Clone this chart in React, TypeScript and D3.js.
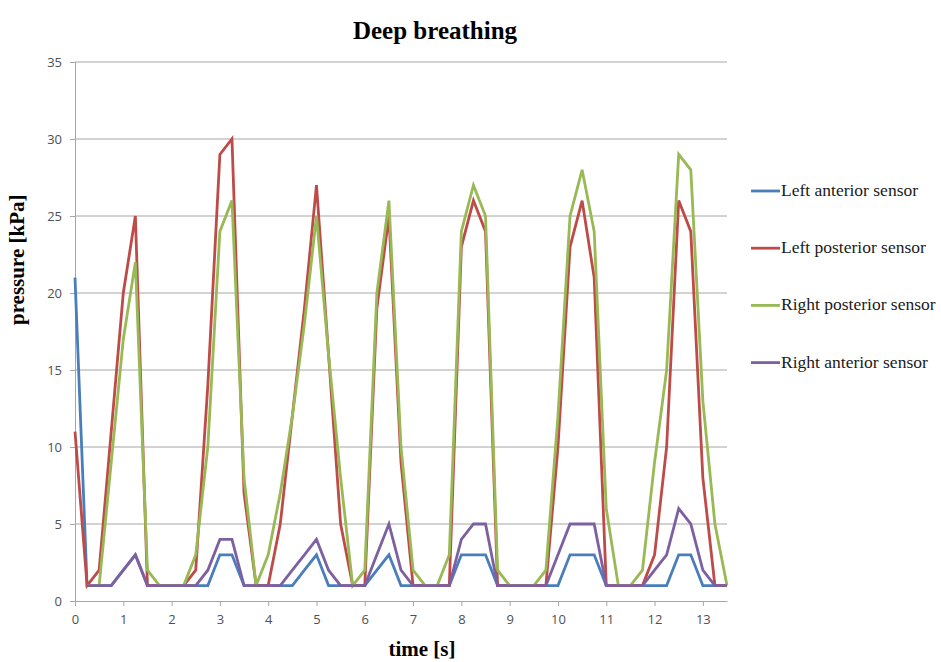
import React, { useEffect, useRef } from 'react';
import * as d3 from 'd3';

// sample times, every 0.25 s from 0 to 13.5
const times = d3.range(0, 13.5001, 0.25);

const leftAnterior = [
  21, 1, 1, 1, 2, 3, 1, 1, 1, 1, 1, 1, 3, 3, 1, 1, 1, 1, 1, 2, 3, 1, 1, 1, 1, 2, 3, 1,
  1, 1, 1, 1, 3, 3, 3, 1, 1, 1, 1, 1, 1, 3, 3, 3, 1, 1, 1, 1, 1, 1, 3, 3, 1, 1, 1,
];
const leftPosterior = [
  11, 1, 2, 11, 20, 25, 1, 1, 1, 1, 2, 14, 29, 30, 7, 1, 1, 5, 12, 19, 27, 16, 5, 1, 1, 19, 25, 9,
  1, 1, 1, 1, 23, 26, 24, 1, 1, 1, 1, 1, 10, 23, 26, 21, 1, 1, 1, 1, 3, 10, 26, 24, 8, 1, 1,
];
const rightPosterior = [
  null, 1, 1, 9, 17, 22, 2, 1, 1, 1, 3, 10, 24, 26, 8, 1, 3, 7, 12, 18, 25, 16, 8, 1, 2, 20, 26, 10,
  2, 1, 1, 3, 24, 27, 25, 2, 1, 1, 1, 2, 12, 25, 28, 24, 6, 1, 1, 2, 9, 15, 29, 28, 13, 5, 1,
];
const rightAnterior = [
  null, 1, 1, 1, 2, 3, 1, 1, 1, 1, 1, 2, 4, 4, 1, 1, 1, 1, 2, 3, 4, 2, 1, 1, 1, 3, 5, 2,
  1, 1, 1, 1, 4, 5, 5, 1, 1, 1, 1, 1, 3, 5, 5, 5, 1, 1, 1, 1, 2, 3, 6, 5, 2, 1, 1,
];

const seriesNames = [
  'Left anterior sensor',
  'Left posterior sensor',
  'Right posterior sensor',
  'Right anterior sensor',
];
const seriesColors = ['#4a7ebb', '#be4b48', '#98b954', '#7d60a0'];
const xTicks = d3.range(0, 14, 1);
const yTicks = d3.range(0, 36, 5);

const App = () => {
  const svgRef = useRef<SVGSVGElement>(null);

  useEffect(() => {
    const width = 941;
    const height = 662;
    const margin = { top: 62, right: 214, bottom: 61, left: 75 };

    const svg = d3.select(svgRef.current);
    svg.selectAll('*').remove();
    svg.attr('width', width).attr('height', height);

    const x = d3
      .scaleLinear()
      .domain([0, 13.5])
      .range([margin.left, width - margin.right]);
    const y = d3
      .scaleLinear()
      .domain([0, 35])
      .range([height - margin.bottom, margin.top]);

    // horizontal gridlines
    svg
      .append('g')
      .selectAll('line')
      .data(yTicks.filter(d => d > 0))
      .enter()
      .append('line')
      .attr('x1', x(0))
      .attr('x2', x(13.5))
      .attr('y1', d => y(d))
      .attr('y2', d => y(d))
      .attr('stroke', '#a6a6a6')
      .attr('stroke-width', 1);

    // y axis
    const yAxis = svg
      .append('g')
      .attr('transform', `translate(${x(0)},0)`)
      .call(d3.axisLeft(y).tickValues(yTicks).tickSize(5).tickPadding(8));
    yAxis.select('.domain').attr('stroke', '#a6a6a6');
    yAxis.selectAll('.tick line').attr('stroke', '#a6a6a6');
    yAxis
      .selectAll('.tick text')
      .attr('fill', '#505050')
      .style('font-family', '"Open Sans", sans-serif')
      .style('font-size', '13px');

    // x axis
    const xAxis = svg
      .append('g')
      .attr('transform', `translate(0,${y(0)})`)
      .call(d3.axisBottom(x).tickValues(xTicks).tickSize(5).tickPadding(9).tickSizeOuter(0));
    xAxis.select('.domain').attr('stroke', '#a6a6a6');
    xAxis.selectAll('.tick line').attr('stroke', '#a6a6a6');
    xAxis
      .selectAll('.tick text')
      .attr('fill', '#505050')
      .style('font-family', '"Open Sans", sans-serif')
      .style('font-size', '13px');

    // lines
    const allSeries = [leftAnterior, leftPosterior, rightPosterior, rightAnterior];
    const line = d3
      .line<number | null>()
      .defined(d => d !== null)
      .x((_, i) => x(times[i]))
      .y(d => y(d as number));

    svg
      .append('g')
      .selectAll('path')
      .data(allSeries)
      .enter()
      .append('path')
      .attr('d', d => line(d))
      .attr('fill', 'none')
      .attr('stroke', (_, i) => seriesColors[i])
      .attr('stroke-width', 2.8)
      .attr('stroke-linejoin', 'miter');

    // title
    svg
      .append('text')
      .attr('x', 435)
      .attr('y', 39)
      .attr('text-anchor', 'middle')
      .style('font-family', '"Liberation Serif", serif')
      .style('font-size', '25px')
      .style('font-weight', 'bold')
      .text('Deep breathing');

    // axis titles
    svg
      .append('text')
      .attr('transform', 'rotate(-90)')
      .attr('x', -325)
      .attr('y', 24)
      .attr('text-anchor', 'start')
      .style('font-family', '"Liberation Serif", serif')
      .style('font-size', '21px')
      .style('font-weight', 'bold')
      .text('pressure [kPa]');

    svg
      .append('text')
      .attr('x', 422)
      .attr('y', 656)
      .attr('text-anchor', 'middle')
      .style('font-family', '"Liberation Serif", serif')
      .style('font-size', '21px')
      .style('font-weight', 'bold')
      .text('time [s]');

    // legend
    const legend = svg
      .selectAll('.legend')
      .data(seriesNames)
      .enter()
      .append('g')
      .attr('transform', (_, i) => `translate(751, ${191 + i * 57.2})`);

    legend
      .append('line')
      .attr('x1', 0)
      .attr('x2', 29)
      .attr('y1', 0)
      .attr('y2', 0)
      .attr('stroke', (_, i) => seriesColors[i])
      .attr('stroke-width', 2.8);

    legend
      .append('text')
      .attr('x', 30)
      .attr('y', 5)
      .style('font-family', '"Liberation Serif", serif')
      .style('font-size', '17.5px')
      .attr('fill', '#1a1a1a')
      .text(d => d);
  }, []);

  return <svg ref={svgRef} style={{ position: 'absolute', left: 0, top: 0, background: '#fff' }}></svg>;
};

export default App;
